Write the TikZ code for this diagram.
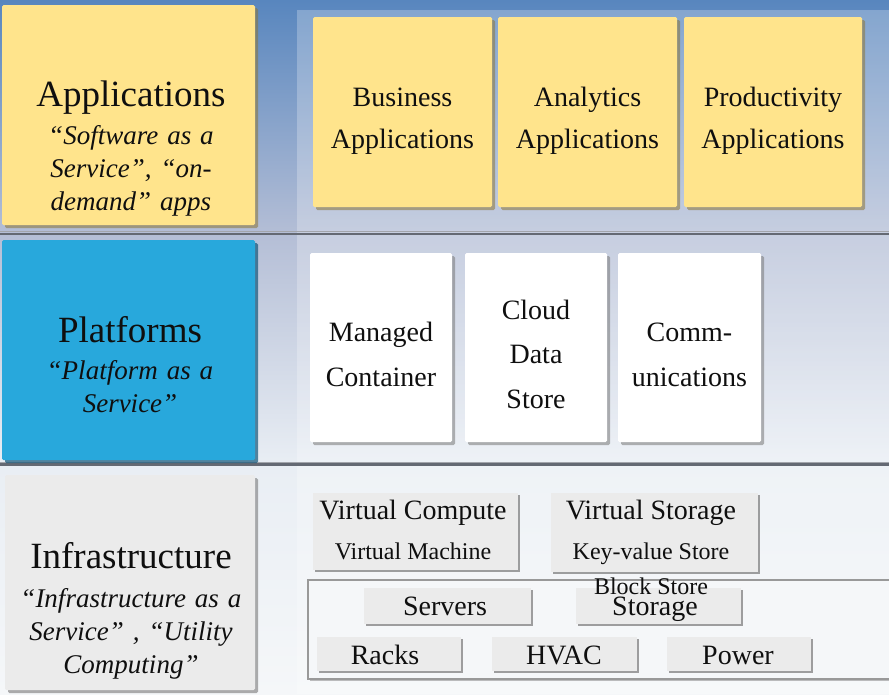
\documentclass[tikz,border=0pt]{standalone}
\usepackage{fontspec}
\setmainfont{Liberation Serif}
\usetikzlibrary{shadows}
\definecolor{bgA}{RGB}{88,134,190}
\definecolor{bgB}{RGB}{180,190,214}
\definecolor{bgC}{RGB}{233,238,244}
\definecolor{bgD}{RGB}{245,247,249}
\definecolor{appY}{RGB}{255,228,140}
\definecolor{appYs}{RGB}{140,118,55}
\definecolor{platB}{RGB}{40,168,220}
\definecolor{platBs}{RGB}{18,85,120}
\definecolor{infG}{RGB}{235,235,235}
\definecolor{infGs}{RGB}{120,120,120}
\definecolor{sepG}{RGB}{100,105,115}
\definecolor{txt}{RGB}{15,15,15}
\begin{document}
\begin{tikzpicture}[x=1pt,y=-1pt,
  every node/.style={text=txt, inner sep=0pt},
  ybox/.style={fill=appY, rounded corners=1.5pt, drop shadow={shadow xshift=3pt,shadow yshift=-3pt,fill=appYs,opacity=0.55}},
  bbox/.style={fill=platB, rounded corners=1.5pt, drop shadow={shadow xshift=3pt,shadow yshift=-3pt,fill=platBs,opacity=0.7}},
  gbox/.style={fill=infG, rounded corners=1.5pt, drop shadow={shadow xshift=3pt,shadow yshift=-3pt,fill=infGs,opacity=0.6}},
  wbox/.style={fill=white, rounded corners=1.5pt, drop shadow={shadow xshift=3pt,shadow yshift=-3pt,fill=infGs,opacity=0.55}},
  sbox/.style={fill=infG, drop shadow={shadow xshift=2pt,shadow yshift=-2pt,fill=infGs,opacity=0.7}},
  lefttext/.style={text width=250pt, align=center, anchor=north, font=\fontsize{27}{33}\selectfont\itshape},
  boxtext/.style={align=center, font=\fontsize{28}{42}\selectfont}
]
\useasboundingbox (0,0) rectangle (889,694);
% background
\shade[top color=bgA, bottom color=bgB] (0,0) rectangle (889,233);
\shade[top color=bgB, bottom color=bgC] (0,233) rectangle (889,464);
\shade[top color=bgC, bottom color=bgD] (0,464) rectangle (889,694);
\fill[white, opacity=0.25] (297,10) rectangle (889,694);
% separators
\draw[sepG!60, line width=1pt] (0,231.5) -- (889,231.5);
\draw[sepG, line width=2.5pt] (0,233.8) -- (889,233.8);
\draw[sepG!60, line width=1pt] (0,462) -- (889,462);
\draw[sepG, line width=2.5pt] (0,464.3) -- (889,464.3);

% left column boxes
\node[ybox, minimum width=253pt, minimum height=220pt] (app) at (128.5,115) {};
\node[bbox, minimum width=253pt, minimum height=220pt] (plat) at (128.5,350) {};
\node[gbox, minimum width=250pt, minimum height=215pt] (inf) at (130,582.5) {};

% application boxes
\node[ybox, minimum width=179pt, minimum height=190pt] (bus) at (402.5,112) {};
\node[ybox, minimum width=179pt, minimum height=190pt] (ana) at (587.5,112) {};
\node[ybox, minimum width=178pt, minimum height=190pt] (pro) at (773,112) {};

% platform boxes
\node[wbox, minimum width=142pt, minimum height=189pt] (man) at (381,347.5) {};
\node[wbox, minimum width=142pt, minimum height=189pt] (clo) at (536,347.5) {};
\node[wbox, minimum width=143pt, minimum height=189pt] (com) at (689.5,347.5) {};

% infrastructure boxes
\node[sbox, minimum width=205pt, minimum height=77pt] (vc) at (415.5,531.5) {};
\node[sbox, minimum width=207pt, minimum height=79pt] (vs) at (654.5,532.5) {};
\draw[draw=gray!80, line width=1.3pt, fill=bgD, drop shadow={shadow xshift=1.5pt,shadow yshift=-1.5pt,fill=gray,opacity=0.5}] (308,580) rectangle (900,679);
\node[sbox, minimum width=167pt, minimum height=36pt] (srv) at (447.5,606) {};
\node[sbox, minimum width=165pt, minimum height=36pt] (sto) at (658.5,606) {};
\node[sbox, minimum width=144pt, minimum height=34pt] (rck) at (389,654) {};
\node[sbox, minimum width=145pt, minimum height=34pt] (hv) at (564.5,654) {};
\node[sbox, minimum width=144pt, minimum height=34pt] (pw) at (739,654) {};

% left texts
\node[lefttext] (appT) at (131,81) {{\upshape\fontsize{37}{40}\selectfont Applications}\\[5pt]“Software as a\\ Service”, “on-\\ demand” apps};
\node[lefttext] (platT) at (130,316) {{\upshape\fontsize{37}{40}\selectfont Platforms}\\[4pt]“Platform as a\\ Service”};
\node[lefttext] (infT) at (131,542) {{\upshape\fontsize{37}{40}\selectfont Infrastructure}\\[6pt]“Infrastructure as a\\ Service” , “Utility\\ Computing”};

% box texts
\node[boxtext] (busT) at ([yshift=-9pt]bus.center) {Business\\Applications};
\node[boxtext] (anaT) at ([yshift=-9pt]ana.center) {Analytics\\Applications};
\node[boxtext] (proT) at ([yshift=-9pt]pro.center) {Productivity\\Applications};
\node[boxtext, font=\fontsize{28}{45}\selectfont] (manT) at ([yshift=-6.5pt]man.center) {Managed\\Container};
\node[boxtext, font=\fontsize{28}{44.5}\selectfont] (cloT) at ([yshift=-6.5pt]clo.center) {Cloud\\Data\\Store};
\node[boxtext, font=\fontsize{28}{45}\selectfont] (comT) at ([yshift=-7pt]com.center) {Comm-\\unications};

\node[boxtext, font=\fontsize{28}{40}\selectfont, anchor=north] (vcT) at (413,500) {Virtual Compute\\{\fontsize{24}{30}\selectfont Virtual Machine}};
\node[boxtext, font=\fontsize{28}{40}\selectfont, anchor=north] (vsT) at (651,500) {Virtual Storage\\{\fontsize{24}{30}\selectfont Key-value Store}\\[-5pt]{\fontsize{24}{30}\selectfont Block Store}};
\node[boxtext, anchor=base] (srvT) at (445,615) {Servers};
\node[boxtext, anchor=base] (stoT) at (655,615) {Storage};
\node[boxtext, anchor=base] (rckT) at (385,664) {Racks};
\node[boxtext, anchor=base] (hvT) at (564,664) {HVAC};
\node[boxtext, anchor=base] (pwT) at (738,664) {Power};
\end{tikzpicture}
\end{document}
